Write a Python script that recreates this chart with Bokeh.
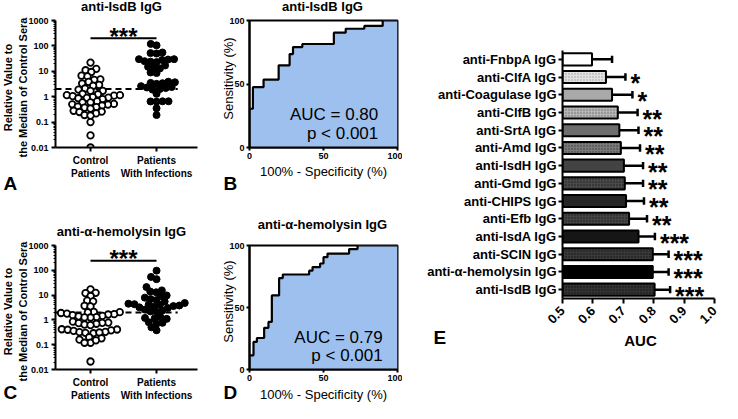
import math
from bokeh.plotting import figure
from bokeh.layouts import row, column
from bokeh.models import Label, FixedTicker, Range1d, FactorRange, ColumnDataSource, PrintfTickFormatter
from bokeh.core.properties import value
from bokeh.embed import file_html
from bokeh.resources import INLINE

FONT = "Liberation Sans"

# ---------------- data ----------------
group_labels = ["Control\nPatients", "Patients\nWith Infections"]
y_axis_lines = ["Relative Value to", "the Median of Control Sera"]
log_ticks = [0.01, 0.1, 1, 10, 100, 1000]
log_tick_labels = ["0.01", "0.1", "1", "10", "100", "1000"]

A_title = "anti-IsdB IgG"
A_control = [22, 12.5, 11, 9.4, 6.7, 6.3, 4.8, 4.6, 3.8, 3.3, 2.9, 2.7, 2.1, 1.9, 1.7, 1.7,
             1.3, 1.25, 1.15, 1.1, 1.15, 1.05, 0.97, 0.92, 0.9, 0.87, 0.8, 0.65, 0.6, 0.6,
             0.52, 0.5, 0.49, 0.45, 0.41, 0.39, 0.37, 0.34, 0.28, 0.26, 0.25, 0.22, 0.19,
             0.18, 0.10, 0.03, 0.01]
A_patients = [120, 105, 55, 52, 50, 30, 29, 28, 24, 25, 23, 30, 17, 15, 14, 13, 9, 8.5,
              3.9, 3.7, 3.4, 3.2, 3.5, 2.6, 2.4, 2.2, 2.0, 1.9, 2.3, 1.3, 0.66, 0.65, 0.64,
              0.66, 0.35, 0.19]
A_cutoff = 2.0
A_sig_level = 200
A_sig_text = "***"

C_title = "anti-\u03b1-hemolysin IgG"
C_control = [17, 12.3, 12, 9.2, 6.0, 5.6, 3.7, 3.5, 2.1, 2.05, 2.0, 1.9, 1.8, 1.7, 1.65,
             1.55, 1.45, 1.4, 1.3, 1.25, 1.26, 0.85, 0.78, 0.76, 0.74, 0.7, 0.65, 0.62,
             0.42, 0.4, 0.41, 0.36, 0.38, 0.33, 0.32, 0.29, 0.31, 0.3, 0.2, 0.18, 0.16,
             0.12, 0.12, 0.15, 0.021]
C_patients = [97, 54, 44, 21, 15.5, 14, 13, 9.7, 9.2, 7.9, 6.9, 6.3, 5.5, 4.8, 4.5, 4.3,
              4.2, 4.0, 3.8, 3.6, 3.4, 3.2, 3.0, 2.6, 2.4, 2.2, 2.1, 1.3, 1.2, 1.15, 1.1,
              0.8, 0.76, 0.7, 0.5, 0.38]
C_cutoff = 2.0
C_sig_level = 240
C_sig_text = "***"

roc_ticks = [0, 50, 100]
roc_xlabel = "100% - Specificity (%)"
roc_ylabel = "Sensitivity (%)"

B_title = "anti-IsdB IgG"
B_fpr = [0, 2.3, 9.5, 19.7, 27.1, 29.4, 35.7, 57, 65, 77.6, 90, 100]
B_tpr = [0, 30.5, 47.5, 53.5, 64.7, 73.6, 79.1, 81.5, 90.4, 93.5, 95.7, 100]
B_auc = "AUC = 0.80"
B_p = "p < 0.001"

D_title = "anti-\u03b1-hemolysin IgG"
D_fpr = [0, 2.7, 5, 9.9, 12.8, 15.1, 20, 22.5, 40.3, 42.6, 47.7, 50, 52.7, 67.3, 73, 100]
D_tpr = [0, 11.4, 22.2, 25.4, 33.6, 38.4, 59.7, 73.7, 76.6, 79.7, 82.6, 85.5, 90.6, 93.5, 97.1, 100]
D_auc = "AUC = 0.79"
D_p = "p < 0.001"

E_antigens = ["anti-FnbpA IgG", "anti-ClfA IgG", "anti-Coagulase IgG", "anti-ClfB IgG",
              "anti-SrtA IgG", "anti-Amd IgG", "anti-IsdH IgG", "anti-Gmd IgG",
              "anti-CHIPS IgG", "anti-Efb IgG", "anti-IsdA IgG", "anti-SCIN IgG",
              "anti-\u03b1-hemolysin IgG", "anti-IsdB IgG"]
E_auc = [0.597, 0.643, 0.663, 0.682, 0.687, 0.692, 0.702, 0.705, 0.709, 0.719, 0.75,
         0.797, 0.797, 0.803]
E_upper = [0.663, 0.707, 0.73, 0.747, 0.75, 0.755, 0.765, 0.765, 0.768, 0.778, 0.804,
           0.849, 0.849, 0.854]
E_sig = ["", "*", "*", "**", "**", "**", "**", "**", "**", "**", "***", "***", "***", "***"]
E_ticks = [0.5, 0.6, 0.7, 0.8, 0.9, 1.0]
E_xlabel = "AUC"
panel_letters = ["A", "B", "C", "D", "E"]

# ---------------- styles ----------------
E_fill = ["#ffffff", "#e2e2e2", "#a9a9a9", "#b5b5b5", "#6d6d6d", "#7a7a7a", "#434343",
          "#4a4a4a", "#262626", "#444444", "#161616", "#3a3a3a", "#000000", "#333333"]
E_hatch = [" ", "dot", " ", "dot", " ", "dot", " ", "dot", " ", "dot", " ", "dot", " ", "dot"]
E_hatch_color = ["#000000", "#9a9a9a", "#000000", "#6a6a6a", "#000000", "#3a3a3a", "#000000",
                 "#1e1e1e", "#000000", "#1a1a1a", "#000000", "#111111", "#000000", "#0e0e0e"]

# page geometry (page coords): figure box + frame box
GA = dict(fx=8, fy=8, W=220, H=202, L=63, R=205, T=28, B=162)
GB = dict(fx=228, fy=8, W=182, H=202, L=257, R=405, T=17, B=155)
GC = dict(fx=8, fy=210, W=220, H=201, L=63, R=205, T=253, B=385)
GD = dict(fx=228, fy=210, W=182, H=201, L=257, R=405, T=240, B=378)
GE = dict(fx=410, fy=8, W=320, H=403, L=570, R=722, T=58, B=306)
PAGE_W, PAGE_H = 722, 403

X_START, X_END = -0.53, 1.62

# transparent overlay figure (page coordinates) holding the free-standing texts
pT = figure(width=PAGE_W, height=PAGE_H, x_range=Range1d(8, 8 + PAGE_W),
            y_range=Range1d(8 + PAGE_H, 8), min_border=0, toolbar_location=None,
            output_backend="svg", x_axis_location=None, y_axis_location=None,
            margin=(-PAGE_H, 0, 0, 0))
pT.grid.visible = False
pT.outline_line_color = None
pT.background_fill_color = None
pT.border_fill_color = None


def txt(px, py, text, size, bold=True, align="center", baseline="middle", angle=0.0):
    pT.add_layout(Label(x=px, y=py, text=text, text_font=FONT, text_font_size=f"{size}px",
                        text_font_style="bold" if bold else "normal", text_align=align,
                        text_baseline=baseline, angle=angle, text_color="black"))


def mkfig(g, **kw):
    p = figure(width=g["W"], height=g["H"],
               min_border_left=g["L"] - g["fx"], min_border_right=g["fx"] + g["W"] - g["R"],
               min_border_top=g["T"] - g["fy"], min_border_bottom=g["fy"] + g["H"] - g["B"],
               toolbar_location=None, output_backend="svg", **kw)
    p.grid.visible = False
    p.outline_line_color = None
    p.background_fill_color = "white"
    p.border_fill_color = "white"
    for ax in p.axis:
        ax.axis_line_width = 2
        ax.axis_line_color = "black"
        ax.major_tick_line_width = 2
        ax.major_tick_in = 0
        ax.major_tick_out = 4
        ax.minor_tick_in = 0
        ax.minor_tick_out = 0
        ax.major_label_text_font = FONT
        ax.major_label_text_font_style = "bold"
        ax.major_label_text_font_size = "9px"
        ax.major_label_text_color = "black"
    return p


def swarm(vals, px_per_dec, d=6.0):
    ys = [math.log10(v) * px_per_dec for v in vals]
    order = sorted(range(len(vals)), key=lambda i: ys[i])
    placed = []
    out = [0.0] * len(vals)
    for i in order:
        y = ys[i]
        cands = [0.0]
        for (qx, qy) in placed:
            dy = y - qy
            if abs(dy) < d:
                dx = math.sqrt(d * d - dy * dy)
                cands += [qx + dx, qx - dx]
        cands.sort(key=lambda c: (abs(c), c))
        for c in cands:
            if all((c - qx) ** 2 + (y - qy) ** 2 >= d * d - 1e-6 for qx, qy in placed):
                out[i] = c
                placed.append((c, y))
                break
    return out


def scatter_panel(g, title, control, patients, cutoff, sig_level, sig_text, letter, letter_y):
    p = mkfig(g, x_range=Range1d(X_START, X_END), y_range=Range1d(0.01, 1000), y_axis_type="log")
    minor = [m * 10 ** k for k in range(-2, 3) for m in range(2, 10)]
    yax = p.yaxis[0]
    yax.ticker = FixedTicker(ticks=log_ticks, minor_ticks=minor)
    yax.major_label_overrides = {t: s for t, s in zip(log_ticks, log_tick_labels)}
    yax.minor_tick_out = 2
    yax.minor_tick_line_width = 1
    yax.major_label_standoff = 3
    xax = p.xaxis[0]
    xax.ticker = FixedTicker(ticks=[0, 1])
    xax.major_label_overrides = {0: group_labels[0], 1: group_labels[1]}
    xax.major_label_text_font_size = "10px"
    xax.major_label_standoff = 3

    ppu = (g["R"] - g["L"]) / (X_END - X_START)
    ppd = (g["B"] - g["T"]) / 5.0
    xc = [0 + o / ppu for o in swarm(control, ppd)]
    xp = [1 + o / ppu for o in swarm(patients, ppd)]
    p.segment(x0=[X_START], x1=[1.32], y0=[cutoff], y1=[cutoff], line_color="black",
              line_width=2, line_dash="6 4")
    p.scatter(xc, control, marker="circle", size=6.5, fill_color="white", line_color="black",
              line_width=1.8)
    p.scatter(xp, patients, marker="circle", size=7, fill_color="black", line_color="black",
              line_width=1)
    p.segment(x0=[0], x1=[1], y0=[sig_level], y1=[sig_level], line_color="black", line_width=2)
    p.text(x=[0.5], y=[sig_level], text=[sig_text], text_font=value(FONT),
           text_font_style="bold", text_font_size="24px", text_align="center",
           text_baseline="alphabetic", y_offset=-2, text_color="black")

    cy = (g["T"] + g["B"]) / 2
    txt((g["L"] + g["R"]) / 2 - 5, g["T"] - 14, title, 13)
    txt(15, cy, y_axis_lines[0], 11, angle=math.pi / 2)
    txt(30, cy, y_axis_lines[1], 11, angle=math.pi / 2)
    txt(11, letter_y, letter, 19, align="left")
    return p


def roc_path(fpr, tpr):
    xs, ys = [fpr[0]], [tpr[0]]
    for i in range(1, len(fpr)):
        xs += [fpr[i - 1], fpr[i]]
        ys += [tpr[i], tpr[i]]
    return xs, ys


def roc_panel(g, title, fpr, tpr, auc_txt, p_txt, auc_x, letter, title_y, letter_y):
    p = mkfig(g, x_range=Range1d(0, 100), y_range=Range1d(0, 100))
    p.outline_line_color = "black"
    p.outline_line_width = 2
    for ax in p.axis:
        ax.ticker = FixedTicker(ticks=roc_ticks)
        ax.major_tick_out = 3
        ax.major_label_standoff = 2
    xs, ys = roc_path(fpr, tpr)
    p.patch(xs + [100], ys + [0], fill_color="#9ec0ef", line_color=None)
    p.line(xs, ys, line_color="black", line_width=2.2)
    for t, yy in ((auc_txt, 26), (p_txt, 11)):
        p.add_layout(Label(x=auc_x, y=yy, text=t, text_font=FONT, text_font_size="17px",
                           text_align="right", text_baseline="middle", text_color="black"))
    cx = (g["L"] + g["R"]) / 2
    txt(cx - 1, title_y, title, 13)
    txt(cx, g["B"] + 24, roc_xlabel, 13, bold=False)
    txt(236, (g["T"] + g["B"]) / 2, roc_ylabel, 13, bold=False, angle=math.pi / 2)
    txt(231, letter_y, letter, 19, align="left")
    return p


pA = scatter_panel(GA, A_title, A_control, A_patients, A_cutoff, A_sig_level, A_sig_text,
                   panel_letters[0], 191)
pC = scatter_panel(GC, C_title, C_control, C_patients, C_cutoff, C_sig_level, C_sig_text,
                   panel_letters[2], 400)
pB = roc_panel(GB, B_title, B_fpr, B_tpr, B_auc, B_p, 87, panel_letters[1], 14, 191)
pD = roc_panel(GD, D_title, D_fpr, D_tpr, D_auc, D_p, 90, panel_letters[3], 232, 400)

# ---------------- panel E ----------------
pE = mkfig(GE, x_range=Range1d(0.5, 1.0), y_range=FactorRange(factors=list(reversed(E_antigens))))
src = ColumnDataSource(dict(name=E_antigens, auc=E_auc, upper=E_upper, sig=E_sig,
                            fill=E_fill, hatch=E_hatch, hcol=E_hatch_color))
pE.segment(x0="auc", x1="upper", y0="name", y1="name", source=src, line_color="black",
           line_width=2.5)
pE.rect(x="upper", y="name", width=2.5, height=0.42, width_units="screen", source=src,
        fill_color="black", line_color=None)
pE.hbar(y="name", left=0.5, right="auc", height=0.68, source=src, fill_color="fill",
        line_color="black", line_width=2, hatch_pattern="hatch", hatch_color="hcol",
        hatch_scale=3, hatch_weight=1)
pE.text(x="upper", y="name", text="sig", source=src, text_font=value(FONT),
        text_font_style="bold", text_font_size="25px", text_align="left",
        text_baseline="alphabetic", x_offset=5, y_offset=6, text_color="black")
ex = pE.xaxis[0]
ex.ticker = FixedTicker(ticks=E_ticks)
ex.formatter = PrintfTickFormatter(format="%.1f")
ex.major_label_orientation = math.pi / 4
ex.major_label_text_font_size = "13px"
ex.major_tick_out = 5
ey = pE.yaxis[0]
ey.major_label_text_font_size = "13px"
ey.major_label_standoff = 2
ey.major_tick_out = 4
txt(648, 348, E_xlabel, 15)
txt(441, 345, panel_letters[4], 19, align="left")

layout = column(row(column(row(pA, pB), row(pC, pD)), pE), pT)

with open("out.html", "w") as f:
    f.write(file_html(layout, INLINE))
